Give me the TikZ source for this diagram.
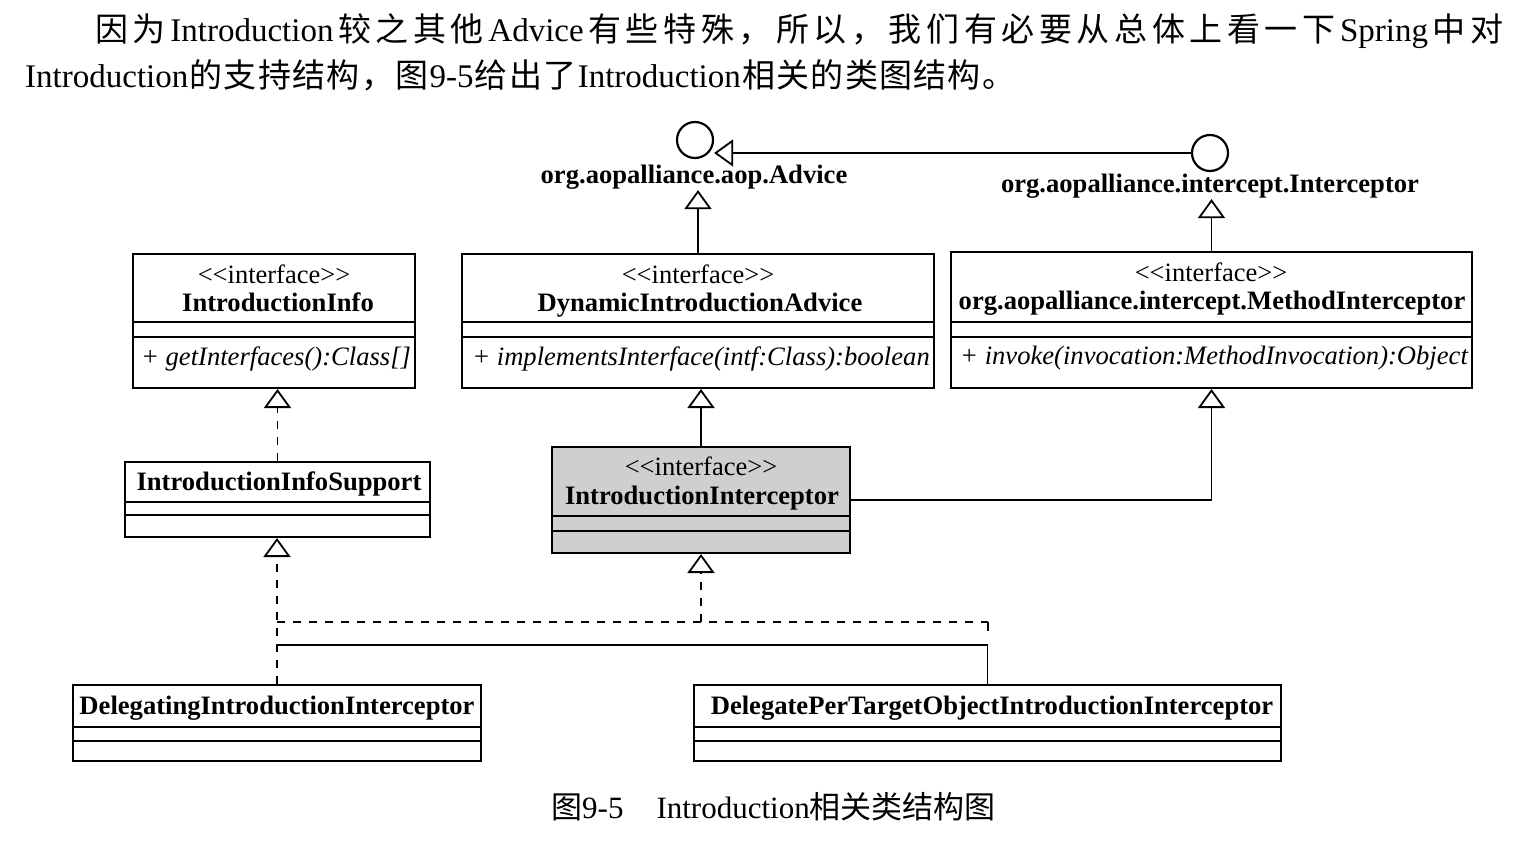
\documentclass[tikz,border=0pt]{standalone}
\usepackage{fontspec}
\setmainfont{Liberation Serif}
\newfontfamily\cjk[Scale=1.0]{Noto Sans CJK SC}
\usetikzlibrary{arrows.meta}
\newcommand\C[1]{{\cjk #1}}
\newcommand\stereo{\char`\<\kern0pt\char`\<interface\char`\>\kern0pt\char`\>}
\begin{document}
\begin{tikzpicture}[x=1pt,y=-1pt,
  box/.style={draw, line width=2pt, rectangle, inner sep=0pt, fill=white},
  cmp/.style={line width=1.5pt},
  ster/.style={inner sep=0pt, anchor=base, font=\fontsize{26.5}{30}\selectfont},
  cname/.style={inner sep=0pt, anchor=base, font=\fontsize{26.6}{30}\selectfont\bfseries},
  meth/.style={inner sep=0pt, anchor=base, font=\fontsize{26.6}{30}\selectfont\itshape},
  conn/.style={line width=1.8pt},
  dsh/.style={conn, dash pattern=on 8pt off 8pt},
  tri/.style={-{Triangle[open, length=19pt, width=27pt, line width=1.8pt]}},
  iface/.style={circle, draw, line width=2.2pt, minimum size=36pt, inner sep=0pt},
  para/.style={anchor=base west, inner sep=0pt, font=\fontsize{33}{40}\selectfont},
  capt/.style={anchor=base west, inner sep=0pt, font=\fontsize{31}{36}\selectfont}
]
\useasboundingbox[fill=white] (0,0) rectangle (1532,850);

% paragraph text
\node[para] (t1) at (95,42) {\hbox to 1408pt{\C{因}\hfil\C{为}\hfil Introduction\hfil\C{较}\hfil\C{之}\hfil\C{其}\hfil\C{他}\hfil Advice\hfil\C{有}\hfil\C{些}\hfil\C{特}\hfil\C{殊}\hfil\C{，}\hfil\C{所}\hfil\C{以}\hfil\C{，}\hfil\C{我}\hfil\C{们}\hfil\C{有}\hfil\C{必}\hfil\C{要}\hfil\C{从}\hfil\C{总}\hfil\C{体}\hfil\C{上}\hfil\C{看}\hfil\C{一}\hfil\C{下}\hfil Spring\hfil\C{中}\hfil\C{对}}};
\node[para] (t2) at (25,88) {\hbox to 990pt{Introduction\hfil\C{的}\hfil\C{支}\hfil\C{持}\hfil\C{结}\hfil\C{构}\hfil\C{，}\hfil\C{图}\hfil 9-5\hfil\C{给}\hfil\C{出}\hfil\C{了}\hfil Introduction\hfil\C{相}\hfil\C{关}\hfil\C{的}\hfil\C{类}\hfil\C{图}\hfil\C{结}\hfil\C{构}\hfil\C{。}}};

% interface lollipops
\node[iface] (advc) at (695,140) {};
\node[iface] (intc) at (1210,153) {};
\node[cname] (advlbl) at (694,184) {org.aopalliance.aop.Advice};
\node[cname] (intlbl) at (1210,193) {org.aopalliance.intercept.Interceptor};

% class boxes
\node[box, minimum width=282pt, minimum height=134pt] (info) at (274,321) {};
\node[box, minimum width=472pt, minimum height=134pt] (dia) at (698,321) {};
\node[box, minimum width=521pt, minimum height=136pt] (mi) at (1211.5,320) {};
\node[box, minimum width=305pt, minimum height=75pt] (iis) at (277.5,499.5) {};
\node[box, minimum width=298pt, minimum height=106pt, fill=gray!38] (ii) at (701,500) {};
\node[box, minimum width=408pt, minimum height=76pt] (dii) at (277,723) {};
\node[box, minimum width=587pt, minimum height=76pt] (dpt) at (987.5,723) {};

% compartments
\foreach \b in {info,dia,mi}{
  \draw[cmp] (\b.west |- 0,322) -- (\b.east |- 0,322);
  \draw[cmp] (\b.west |- 0,337) -- (\b.east |- 0,337);
}
\draw[cmp] (iis.west |- 0,502) -- (iis.east |- 0,502);
\draw[cmp] (iis.west |- 0,515) -- (iis.east |- 0,515);
\draw[cmp] (ii.west |- 0,516) -- (ii.east |- 0,516);
\draw[cmp] (ii.west |- 0,531) -- (ii.east |- 0,531);
\foreach \b in {dii,dpt}{
  \draw[cmp] (\b.west |- 0,727) -- (\b.east |- 0,727);
  \draw[cmp] (\b.west |- 0,741) -- (\b.east |- 0,741);
}

% texts in boxes
\node[ster] (infoS) at (274,284) {\stereo};
\node[cname] (infoN) at (278,312) {IntroductionInfo};
\node[meth] (infoM) at (276,366) {+ getInterfaces():Class[]};
\node[ster] (diaS) at (698,284) {\stereo};
\node[cname] (diaN) at (700,312) {DynamicIntroductionAdvice};
\node[meth] (diaM) at (701,366) {+ implementsInterface(intf:Class):boolean};
\node[ster] (miS) at (1211,282) {\stereo};
\node[cname] (miN) at (1212,310) {org.aopalliance.intercept.MethodInterceptor};
\node[meth] (miM) at (1214,365) {+ invoke(invocation:MethodInvocation):Object};
\node[cname] (iisN) at (279,490) {IntroductionInfoSupport};
\node[ster] (iiS) at (701,475) {\stereo};
\node[cname] (iiN) at (702,504) {IntroductionInterceptor};
\node[cname] (diiN) at (277,714) {DelegatingIntroductionInterceptor};
\node[cname] (dptN) at (992,714) {DelegatePerTargetObjectIntroductionInterceptor};

% connectors
\draw[conn,tri] (intc.west) -- (intc.west -| advc.east);
\draw[conn,tri] (dia.north) -- (dia.north |- advlbl.south);
\draw[conn,tri] (mi.north) -- (mi.north |- intlbl.south);
\draw[dsh,tri] (iis.north) -- (iis.north |- info.south);
\draw[conn,tri] (ii.north) -- (ii.north |- dia.south);
\draw[conn,tri] (ii.east) -- (ii.east -| mi.south) -- (mi.south);
\draw[dsh,tri] (dii.north) -- (dii.north |- iis.south);
\coordinate (jl) at (277,622);
\coordinate (jr) at (988,622);
\coordinate (jt) at (988,631);
\draw[dsh] (jl) -- (jr);
\draw[conn] (jr) -- (jt);
\draw[dsh,tri] (ii.south |- jl) -- (ii.south);
\coordinate (sl) at (277,645);
\draw[conn] (dpt.north) -- (dpt.north |- sl) -- (sl);

% caption
\node[capt] (cap) at (551,818) {\C{图}9-5\hspace{33pt}Introduction\C{相关类结构图}};
\end{tikzpicture}
\end{document}
